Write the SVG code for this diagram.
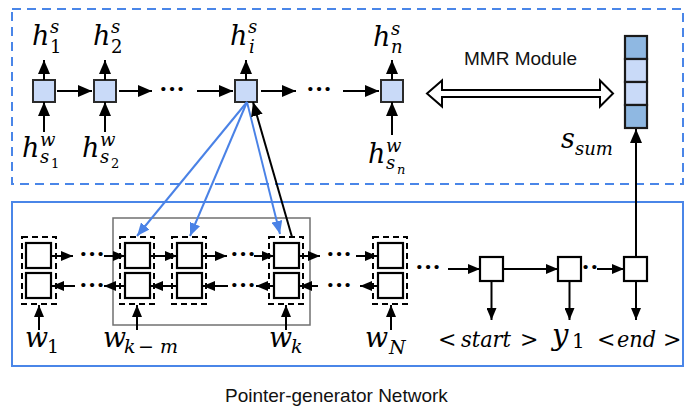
<svg xmlns="http://www.w3.org/2000/svg" width="694" height="418" viewBox="0 0 694 418">
  <defs>
    <marker id="ah" markerUnits="userSpaceOnUse" markerWidth="14" markerHeight="12" refX="14" refY="6" orient="auto">
      <path d="M0,0 L14,6 L0,12 z" fill="#000"/>
    </marker>
    <marker id="as" markerUnits="userSpaceOnUse" markerWidth="12" markerHeight="10" refX="12" refY="5" orient="auto">
      <path d="M0,0 L12,5 L0,10 z" fill="#000"/>
    </marker>
    <marker id="ab" markerUnits="userSpaceOnUse" markerWidth="13" markerHeight="11" refX="13" refY="5.5" orient="auto">
      <path d="M0,0 L13,5.5 L0,11 z" fill="#4a82e6"/>
    </marker>
  </defs>
  <style>
    .math{font-family:"DejaVu Serif","Liberation Serif",serif;font-style:italic;fill:#000}
    .up{font-style:normal}
    .sans{font-family:"Liberation Sans",Arial,sans-serif;fill:#111}
    .ln{stroke:#000;stroke-width:2;fill:none}
    .lg{marker-end:url(#ah)}
    .sm{marker-end:url(#as)}
    .att{stroke:#4a82e6;stroke-width:2;fill:none;marker-end:url(#ab)}
    .hn{fill:#c9daf8;stroke:#2b2b2b;stroke-width:2}
    .cell{fill:#fff;stroke:#000;stroke-width:2.2}
    .bi{fill:none;stroke:#000;stroke-width:2;stroke-dasharray:6 4}
    .dots{font-family:"Liberation Serif",serif;font-weight:bold;font-size:26px;text-anchor:middle;fill:#000}
    .frame{fill:none;stroke:#4a86e8;stroke-width:2}
  </style>

  <!-- outer frames -->
  <g id="frames">
    <rect class="frame" x="12" y="9" width="671" height="175" stroke-dasharray="9 6"/>
    <rect class="frame" x="12" y="202" width="671" height="164" stroke-width="2.2"/>
    <rect x="113" y="218" width="197" height="107" fill="none" stroke="#707070" stroke-width="1.5"/>
  </g>

  <!-- sentence-level encoder -->
  <g id="sent1">
    <rect class="hn" x="33" y="80" width="22" height="22"/>
    <text class="math" font-size="27"><tspan x="32" y="45">h</tspan><tspan x="50" y="33" font-size="18">s</tspan><tspan x="50" y="53" font-size="18" class="up">1</tspan></text>
    <text class="math" font-size="27"><tspan x="22" y="157">h</tspan><tspan x="40" y="146" font-size="18">w</tspan><tspan x="40" y="163" font-size="18">s</tspan><tspan x="51" y="168" font-size="13" class="up">1</tspan></text>
  </g>
  <g id="sent2">
    <rect class="hn" x="94" y="80" width="22" height="22"/>
    <text class="math" font-size="27"><tspan x="93" y="45">h</tspan><tspan x="111" y="33" font-size="18">s</tspan><tspan x="111" y="53" font-size="18" class="up">2</tspan></text>
    <text class="math" font-size="27"><tspan x="82" y="157">h</tspan><tspan x="100" y="146" font-size="18">w</tspan><tspan x="100" y="163" font-size="18">s</tspan><tspan x="111" y="168" font-size="13" class="up">2</tspan></text>
  </g>
  <g id="senti">
    <rect class="hn" x="235" y="80" width="22" height="22"/>
    <text class="math" font-size="27"><tspan x="230" y="45">h</tspan><tspan x="248" y="33" font-size="18">s</tspan><tspan x="249" y="53" font-size="18">i</tspan></text>
  </g>
  <g id="sentn">
    <rect class="hn" x="381" y="80" width="22" height="22"/>
    <text class="math" font-size="27"><tspan x="373" y="46">h</tspan><tspan x="391" y="35" font-size="18">s</tspan><tspan x="391" y="53" font-size="18">n</tspan></text>
    <text class="math" font-size="27"><tspan x="368" y="163">h</tspan><tspan x="386" y="152" font-size="18">w</tspan><tspan x="386" y="169" font-size="18">s</tspan><tspan x="397" y="174" font-size="13">n</tspan></text>
  </g>

  <!-- summary vector -->
  <g id="ssum">
    <rect x="625" y="36" width="22" height="23" fill="#8fb8e2" stroke="#1a1a1a" stroke-width="2.2"/>
    <rect x="625" y="59" width="22" height="23" fill="#c9daf8" stroke="#1a1a1a" stroke-width="2.2"/>
    <rect x="625" y="82" width="22" height="23" fill="#c9daf8" stroke="#1a1a1a" stroke-width="2.2"/>
    <rect x="625" y="105" width="22" height="23" fill="#8fb8e2" stroke="#1a1a1a" stroke-width="2.2"/>
    <text class="math" font-size="27"><tspan x="561" y="148">s</tspan><tspan x="575" y="155" font-size="18">sum</tspan></text>
  </g>

  <!-- MMR link -->
  <g id="mmr">
    <path d="M427,93.5 L442,80.5 L442,90 L600,90 L600,80.5 L613,93.5 L600,106.5 L600,97 L442,97 L442,106.5 Z" fill="#fff" stroke="#000" stroke-width="2" stroke-linejoin="miter"/>
    <text class="sans" x="464" y="65" font-size="19">MMR Module</text>
  </g>

  <!-- word-level bidirectional encoder -->
  <g id="enc1">
    <rect class="bi" x="22" y="237" width="34" height="67"/>
    <rect class="cell" x="26" y="243" width="25" height="25"/>
    <rect class="cell" x="26" y="273" width="25" height="25"/>
    <text class="math" font-size="27"><tspan x="25" y="347">w</tspan><tspan x="47" y="353" font-size="19" class="up">1</tspan></text>
  </g>
  <g id="enc2">
    <rect class="bi" x="120" y="237" width="34" height="67"/>
    <rect class="cell" x="125" y="243" width="25" height="25"/>
    <rect class="cell" x="125" y="273" width="25" height="25"/>
    <text class="math" font-size="27"><tspan x="103" y="347">w</tspan><tspan x="124" y="353" font-size="19">k</tspan><tspan x="138" y="353" font-size="19" class="up">−</tspan><tspan x="160" y="353" font-size="19">m</tspan></text>
  </g>
  <g id="enc3">
    <rect class="bi" x="172" y="237" width="34" height="67"/>
    <rect class="cell" x="177" y="243" width="25" height="25"/>
    <rect class="cell" x="177" y="273" width="25" height="25"/>
  </g>
  <g id="enc4">
    <rect class="bi" x="269" y="237" width="34" height="67"/>
    <rect class="cell" x="274" y="243" width="25" height="25"/>
    <rect class="cell" x="274" y="273" width="25" height="25"/>
    <text class="math" font-size="27"><tspan x="269" y="347">w</tspan><tspan x="291" y="353" font-size="19">k</tspan></text>
  </g>
  <g id="enc5">
    <rect class="bi" x="373" y="237" width="34" height="67"/>
    <rect class="cell" x="378" y="243" width="25" height="25"/>
    <rect class="cell" x="378" y="273" width="25" height="25"/>
    <text class="math" font-size="27"><tspan x="365" y="347">w</tspan><tspan x="389" y="354" font-size="19">N</tspan></text>
  </g>

  <!-- decoder -->
  <g id="decStart">
    <rect class="cell" x="480" y="257" width="23" height="24"/>
    <text class="math" font-size="22"><tspan x="438" y="347" class="up">&lt;</tspan><tspan x="461" y="347" textLength="50" lengthAdjust="spacingAndGlyphs">start</tspan><tspan x="520" y="347" class="up">&gt;</tspan></text>
  </g>
  <g id="decY1">
    <rect class="cell" x="558" y="257" width="23" height="24"/>
    <text class="math" font-size="29"><tspan x="552" y="345">y</tspan><tspan x="572" y="348" font-size="20" class="up">1</tspan></text>
  </g>
  <g id="decEnd">
    <rect class="cell" x="624" y="257" width="23" height="24"/>
    <text class="math" font-size="22"><tspan x="597" y="347" class="up">&lt;</tspan><tspan x="617" y="347" textLength="39" lengthAdjust="spacingAndGlyphs">end</tspan><tspan x="663" y="347" class="up">&gt;</tspan></text>
  </g>

  <text class="sans" x="225" y="402" font-size="19">Pointer-generator Network</text>

  <!-- connectors -->
  <g id="connectors">
    <!-- sentence encoder: outputs -->
    <line class="ln lg" x1="44" y1="80" x2="44" y2="60"/>
    <line class="ln lg" x1="105" y1="80" x2="105" y2="60"/>
    <line class="ln lg" x1="246" y1="80" x2="246" y2="60"/>
    <line class="ln lg" x1="392" y1="80" x2="392" y2="60"/>
    <!-- sentence encoder: inputs -->
    <line class="ln lg" x1="44" y1="132" x2="44" y2="102"/>
    <line class="ln lg" x1="105" y1="132" x2="105" y2="102"/>
    <line class="ln lg" x1="392" y1="135" x2="392" y2="102"/>
    <!-- sentence encoder: recurrence -->
    <line class="ln lg" x1="57" y1="91" x2="92" y2="91"/>
    <line class="ln lg" x1="119" y1="91" x2="152" y2="91"/>
    <text class="dots" x="172" y="97">···</text>
    <line class="ln lg" x1="197" y1="91" x2="233" y2="91"/>
    <line class="ln lg" x1="261" y1="91" x2="296" y2="91"/>
    <text class="dots" x="319" y="97">···</text>
    <line class="ln lg" x1="343" y1="91" x2="379" y2="91"/>

    <!-- attention over the word window -->
    <line class="att" x1="247" y1="102" x2="137" y2="236"/>
    <line class="att" x1="247" y1="102" x2="190" y2="236"/>
    <line class="att" x1="247" y1="102" x2="280" y2="234"/>
    <line class="ln lg" x1="292" y1="237" x2="253" y2="102"/>

    <!-- forward pass -->
    <line class="ln sm" x1="51" y1="256" x2="73" y2="256"/>
    <text class="dots" x="92" y="262">···</text>
    <line class="ln sm" x1="104" y1="256" x2="125" y2="256"/>
    <line class="ln sm" x1="150" y1="256" x2="177" y2="256"/>
    <line class="ln sm" x1="202" y1="256" x2="227" y2="256"/>
    <text class="dots" x="243" y="262">···</text>
    <line class="ln sm" x1="254" y1="256" x2="274" y2="256"/>
    <line class="ln sm" x1="299" y1="256" x2="320" y2="256"/>
    <text class="dots" x="339" y="262">···</text>
    <line class="ln sm" x1="356" y1="256" x2="377" y2="256"/>

    <!-- backward pass -->
    <line class="ln sm" x1="75" y1="286" x2="52" y2="286"/>
    <text class="dots" x="92" y="293">···</text>
    <line class="ln sm" x1="125" y1="286" x2="104" y2="286"/>
    <line class="ln sm" x1="177" y1="286" x2="151" y2="286"/>
    <line class="ln sm" x1="228" y1="286" x2="203" y2="286"/>
    <text class="dots" x="243" y="293">···</text>
    <line class="ln sm" x1="274" y1="286" x2="256" y2="286"/>
    <line class="ln sm" x1="318" y1="286" x2="300" y2="286"/>
    <text class="dots" x="339" y="293">···</text>
    <line class="ln sm" x1="378" y1="286" x2="360" y2="286"/>

    <!-- word inputs -->
    <line class="ln sm" x1="39" y1="330" x2="39" y2="305"/>
    <line class="ln sm" x1="137" y1="330" x2="137" y2="305"/>
    <line class="ln sm" x1="286" y1="330" x2="286" y2="305"/>
    <line class="ln sm" x1="391" y1="330" x2="391" y2="305"/>

    <!-- decoder chain -->
    <text class="dots" x="428" y="275">···</text>
    <line class="ln sm" x1="448" y1="269" x2="480" y2="269"/>
    <line class="ln sm" x1="503" y1="269" x2="558" y2="269"/>
    <text class="dots" x="590" y="275">··</text>
    <line class="ln sm" x1="597" y1="269" x2="624" y2="269"/>
    <line class="ln sm" x1="491.5" y1="281" x2="491.5" y2="320"/>
    <line class="ln sm" x1="569.5" y1="281" x2="569.5" y2="320"/>
    <line class="ln sm" x1="636" y1="281" x2="636" y2="320"/>
    <line class="ln lg" x1="636" y1="257" x2="636" y2="129"/>
  </g>
</svg>
